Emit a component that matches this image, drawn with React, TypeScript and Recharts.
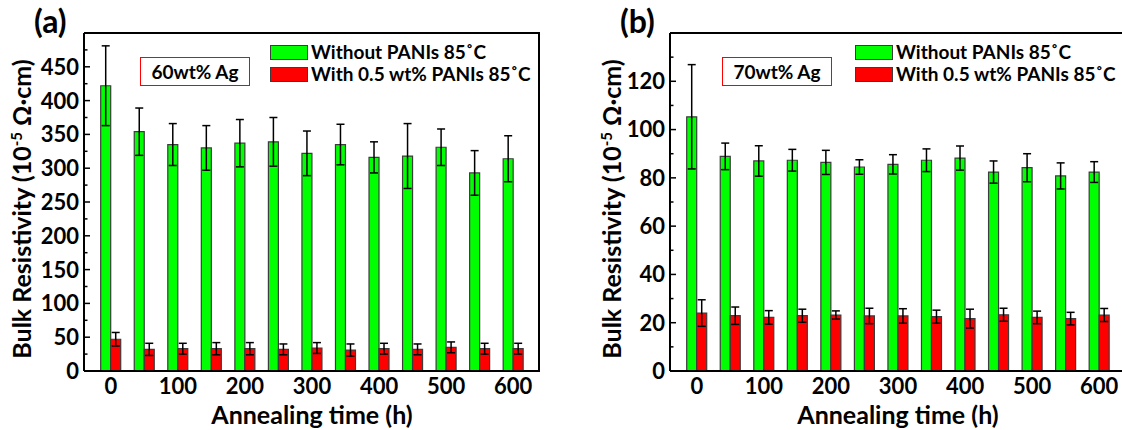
import React from "react";
import { BarChart, Bar, XAxis, YAxis, ErrorBar } from "recharts";

// annealing time (h)
const times = ["0", "50", "100", "150", "200", "250", "300", "350", "400", "450", "500", "550", "600"];

// (a) 60wt% Ag
const aWithout = [422, 354, 335, 330, 337, 339, 322, 335, 316, 318, 331, 293, 314];
const aWithoutErr = [59, 35, 31, 33, 35, 36, 33, 30, 23, 48, 27, 33, 34];
const aWith = [47, 32, 33, 33, 33, 32, 34, 31, 33, 32, 35, 33, 33];
const aWithErr = [10, 9, 8, 9, 9, 8, 8, 9, 8, 8, 8, 8, 8];
const aTicks = [0, 25, 50, 75, 100, 125, 150, 175, 200, 225, 250, 275, 300, 325, 350, 375, 400, 425, 450, 475];

// (b) 70wt% Ag
const bWithout = [105.3, 88.9, 87.0, 87.3, 86.4, 84.5, 85.6, 87.3, 88.2, 82.4, 84.2, 80.8, 82.4];
const bWithoutErr = [21.6, 5.5, 6.3, 4.5, 5, 3, 4, 4.7, 5, 4.6, 5.8, 5.4, 4.3];
const bWith = [24, 22.9, 22.2, 22.9, 23.2, 22.8, 22.8, 22.5, 21.7, 23.3, 22.2, 21.7, 23.2];
const bWithErr = [5.5, 3.6, 2.8, 2.7, 1.7, 3.2, 3, 2.7, 3.9, 2.7, 2.6, 2.6, 2.7];
const bTicks = [0, 10, 20, 30, 40, 50, 60, 70, 80, 90, 100, 110, 120, 130];

const FONT = "Lato, 'Open Sans', sans-serif";
const GREEN = "#00ff00";
const RED = "#ff0000";
const EDGE = "#3c3c3c";

// plot box inside each 562x430 panel
const PLOT = { left: 84, top: 33, width: 456, height: 338 };

function makeRows(g: number[], gErr: number[], r: number[], rErr: number[]) {
  return times.map((t, i) => ({ t, g: g[i], gErr: gErr[i], r: r[i], rErr: rErr[i] }));
}

const yTick = (step: number, maxLabel: number) => (props: any) => {
  const { x, y, payload } = props;
  const v = payload.value;
  const major = v % step === 0;
  const ax = x + 5;
  return (
    <g>
      <line x1={ax} x2={ax + (major ? 6 : 3.5)} y1={y} y2={y} stroke="#000" strokeWidth={1.5} />
      {major && v <= maxLabel && (
        <text x={x} y={y} dy="0.36em" textAnchor="end" fontSize={22} fontWeight={700} fontFamily={FONT} fill="#000">
          {v}
        </text>
      )}
    </g>
  );
};

const xTick = (props: any) => {
  const { x, y, payload } = props;
  if (Number(payload.value) % 100 !== 0) return <g />;
  return (
    <text x={x} y={y} dy={19} textAnchor="middle" fontSize={22} fontWeight={700} fontFamily={FONT} fill="#000">
      {payload.value}
    </text>
  );
};

function YTitle(props: any) {
  const vb = props.viewBox || { x: 0, y: 33, width: 84, height: 338 };
  const cx = props.cx;
  const cy = vb.y + vb.height / 2 + 7;
  return (
    <text
      x={cx}
      y={cy}
      dy="0.35em"
      textAnchor="middle"
      transform={`rotate(-90, ${cx}, ${cy})`}
      fontSize={25}
      fontWeight={700}
      fontFamily={FONT}
      fill="#000"
    >
      Bulk Resistivity (10
      <tspan dy={-9} fontSize={15}>-5</tspan>
      <tspan dy={9}> Ω·cm)</tspan>
    </text>
  );
}

interface PanelProps {
  left: number;
  rows: ReturnType<typeof makeRows>;
  max: number;
  ticks: number[];
  step: number;
  maxLabel: number;
  tag: string;
  note: string;
  noteLeft: number;
  legendLeft: number;
  titleX: number;
}

function Panel({ left, rows, max, ticks, step, maxLabel, tag, note, noteLeft, legendLeft, titleX }: PanelProps) {
  return (
    <div style={{ position: "absolute", left, top: 0, width: 562, height: 430 }}>
      <BarChart
        width={562}
        height={430}
        data={rows}
        margin={{ top: PLOT.top, right: 562 - PLOT.left - PLOT.width, bottom: 0, left: 0 }}
        barCategoryGap="20%"
        barGap={0}
      >
        <XAxis
          dataKey="t"
          interval={0}
          padding={{ left: 10, right: 10 }}
          tickLine={false}
          tickSize={0}
          tickMargin={4}
          tick={xTick}
          height={430 - PLOT.top - PLOT.height}
          axisLine={{ stroke: "#000", strokeWidth: 2 }}
          label={{ value: "Annealing time (h)", position: "insideBottom", offset: 6, fontSize: 25, fontWeight: 700, fontFamily: FONT, fill: "#000" }}
        />
        <YAxis
          domain={[0, max]}
          ticks={ticks}
          interval={0}
          width={PLOT.left}
          tickLine={false}
          tickSize={0}
          tickMargin={5}
          tick={yTick(step, maxLabel)}
          axisLine={{ stroke: "#000", strokeWidth: 2 }}
          label={<YTitle cx={titleX} />}
        />
        <Bar dataKey="g" fill={GREEN} stroke={EDGE} strokeWidth={1.2} isAnimationActive={false}>
          <ErrorBar dataKey="gErr" width={4} stroke="#000" strokeWidth={1.5} direction="y" />
        </Bar>
        <Bar dataKey="r" fill={RED} stroke={EDGE} strokeWidth={1.2} isAnimationActive={false}>
          <ErrorBar dataKey="rErr" width={4} stroke="#000" strokeWidth={1.5} direction="y" />
        </Bar>
      </BarChart>

      {/* top and right frame of the plot box */}
      <div
        style={{
          position: "absolute",
          left: PLOT.left,
          top: PLOT.top - 1,
          width: PLOT.width,
          height: PLOT.height,
          borderTop: "2px solid #000",
          borderRight: "2px solid #000",
          boxSizing: "border-box",
          pointerEvents: "none",
        }}
      />

      <div style={{ position: "absolute", left: 34, top: 1, fontSize: 32, fontWeight: 700, fontFamily: FONT, lineHeight: "40px" }}>{tag}</div>

      <div
        style={{
          position: "absolute",
          left: noteLeft,
          top: 57,
          width: 110,
          height: 29,
          border: "1.5px solid #ff0000",
          boxSizing: "border-box",
          fontSize: 19,
          fontWeight: 700,
          fontFamily: FONT,
          display: "flex",
          alignItems: "center",
          justifyContent: "center",
        }}
      >
        {note}
      </div>

      <div style={{ position: "absolute", left: legendLeft, top: 41, fontFamily: FONT, fontSize: 19, fontWeight: 700, lineHeight: "22px" }}>
        {[
          { c: GREEN, label: "Without PANIs 85˚C" },
          { c: RED, label: "With 0.5 wt% PANIs 85˚C" },
        ].map((it) => (
          <div key={it.label} style={{ display: "flex", alignItems: "center", height: 22, whiteSpace: "nowrap" }}>
            <span style={{ width: 38, height: 15, background: it.c, border: `1px solid ${EDGE}`, marginRight: 3, boxSizing: "border-box" }} />
            <span>{it.label}</span>
          </div>
        ))}
      </div>
    </div>
  );
}

export default function App() {
  return (
    <div style={{ position: "fixed", left: 0, top: 0, width: 1122, height: 430, overflow: "hidden", background: "#fff" }}>
      <Panel
        left={0}
        rows={makeRows(aWithout, aWithoutErr, aWith, aWithErr)}
        max={500}
        ticks={aTicks}
        step={50}
        maxLabel={450}
        tag="(a)"
        note="60wt% Ag"
        noteLeft={140}
        legendLeft={270}
        titleX={22}
      />
      <Panel
        left={586}
        rows={makeRows(bWithout, bWithoutErr, bWith, bWithErr)}
        max={140}
        ticks={bTicks}
        step={20}
        maxLabel={120}
        tag="(b)"
        note="70wt% Ag"
        noteLeft={136}
        legendLeft={269}
        titleX={26}
      />
    </div>
  );
}
